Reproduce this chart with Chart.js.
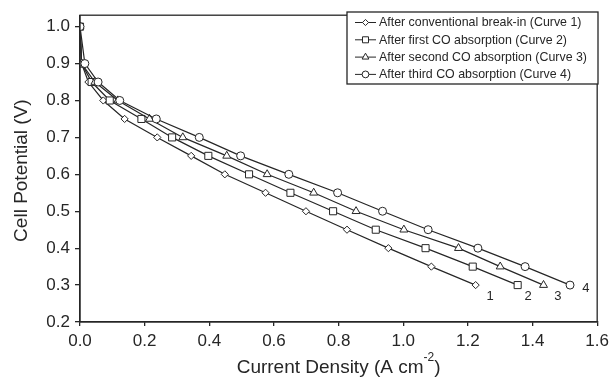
<!DOCTYPE html>
<html>
<head>
<meta charset="utf-8">
<script src="https://cdn.jsdelivr.net/npm/chart.js@4"></script>
<style>
  html, body { margin: 0; padding: 0; background: #fff; }
  #wrap { width: 614px; height: 382px; position: relative; }
</style>
</head>
<body>
<div id="wrap"><canvas id="polChart"></canvas></div>
<script>
// potentials (V) shared by all curves
const potentials = [1.0, 0.9, 0.85, 0.8, 0.75, 0.7, 0.65, 0.6, 0.55, 0.5, 0.45, 0.4, 0.35, 0.3];

// current density (A cm-2) per curve
const curve1 = [0, 0.005, 0.026, 0.072, 0.138, 0.239, 0.344, 0.448, 0.574, 0.699, 0.826, 0.954, 1.087, 1.224];
const curve2 = [0, 0.005, 0.036, 0.092, 0.190, 0.285, 0.397, 0.523, 0.651, 0.783, 0.915, 1.069, 1.215, 1.354];
const curve3 = [0, 0.005, 0.046, 0.117, 0.215, 0.318, 0.454, 0.579, 0.723, 0.854, 1.002, 1.171, 1.300, 1.434];
const curve4 = [0, 0.015, 0.056, 0.123, 0.236, 0.369, 0.497, 0.646, 0.797, 0.936, 1.077, 1.231, 1.377, 1.516];

const seriesNames = [
    'After conventional break-in (Curve 1)',
    'After first CO absorption (Curve 2)',
    'After second CO absorption (Curve 3)',
    'After third CO absorption (Curve 4)'
];
const seriesMarkers = ['rectRot', 'rect', 'triangle', 'circle'];

const xTicks = [0, 0.2, 0.4, 0.6, 0.8, 1.0, 1.2, 1.4, 1.6];
const yTicks = [0.2, 0.3, 0.4, 0.5, 0.6, 0.7, 0.8, 0.9, 1.0];

// curve numbers written next to the line ends
const tagText = ['1', '2', '3', '4'];
const tagX = [1.269, 1.386, 1.478, 1.565];
const tagY = [0.269, 0.269, 0.269, 0.292];

const ink = '#262626';
const fontFamily = "'Liberation Sans', Arial, sans-serif";
const markerRadius = [3.6, 5.0, 4.6, 4.0];

function toPoints(xs) {
    return xs.map((x, i) => ({ x: x, y: potentials[i] }));
}

// kotak plot, judul sumbu, nomor kurva dan legenda
const decorPlugin = {
    id: 'decor',
    afterDraw(chart) {
        const ctx = chart.ctx;
        const area = chart.chartArea;
        const xs = chart.scales.x;
        const ys = chart.scales.y;
        ctx.save();

        ctx.strokeStyle = ink;
        ctx.lineWidth = 1.3;
        ctx.strokeRect(area.left, area.top, area.right - area.left, area.bottom - area.top);

        ctx.fillStyle = ink;
        ctx.font = '13px ' + fontFamily;
        ctx.textAlign = 'center';
        ctx.textBaseline = 'middle';
        tagText.forEach((t, i) => {
            ctx.fillText(t, xs.getPixelForValue(tagX[i]), ys.getPixelForValue(tagY[i]));
        });

        // judul sumbu y
        ctx.save();
        ctx.translate(22, (area.top + area.bottom) / 2 + 2);
        ctx.rotate(-Math.PI / 2);
        ctx.font = '19px ' + fontFamily;
        ctx.fillText('Cell Potential (V)', 0, 0);
        ctx.restore();

        // judul sumbu x dengan pangkat
        const big = '19px ' + fontFamily;
        const small = '12px ' + fontFamily;
        const main = 'Current Density (A cm';
        const sup = '-2';
        const close = ')';
        ctx.font = big;
        const wMain = ctx.measureText(main).width;
        const wClose = ctx.measureText(close).width;
        ctx.font = small;
        const wSup = ctx.measureText(sup).width;
        const x0 = (area.left + area.right) / 2 - (wMain + wSup + wClose) / 2;
        const yBase = 373;
        ctx.textAlign = 'left';
        ctx.textBaseline = 'alphabetic';
        ctx.font = big;
        ctx.fillText(main, x0, yBase);
        ctx.fillText(close, x0 + wMain + wSup, yBase);
        ctx.font = small;
        ctx.fillText(sup, x0 + wMain, yBase - 12);

        // legenda
        const box = { left: 347, top: 12, width: 251, height: 72 };
        ctx.fillStyle = '#fff';
        ctx.fillRect(box.left, box.top, box.width, box.height);
        ctx.strokeStyle = ink;
        ctx.lineWidth = 1.3;
        ctx.strokeRect(box.left, box.top, box.width, box.height);
        ctx.font = '12.4px ' + fontFamily;
        ctx.textBaseline = 'middle';
        seriesNames.forEach((name, i) => {
            const y = 22.5 + i * 17.3;
            ctx.strokeStyle = ink;
            ctx.lineWidth = 1;
            ctx.beginPath();
            ctx.moveTo(355, y);
            ctx.lineTo(376, y);
            ctx.stroke();
            ctx.fillStyle = '#fff';
            Chart.helpers.drawPoint(ctx, {
                pointStyle: seriesMarkers[i],
                radius: markerRadius[i] * 0.85,
                rotation: 0,
                borderWidth: 1
            }, 365.5, y);
            ctx.fillStyle = ink;
            ctx.fillText(name, 379, y + 0.5);
        });

        ctx.restore();
    }
};

const datasets = [curve1, curve2, curve3, curve4].map((xs, i) => ({
    label: seriesNames[i],
    data: toPoints(xs),
    showLine: true,
    borderColor: ink,
    borderWidth: 1.2,
    pointStyle: seriesMarkers[i],
    pointRadius: markerRadius[i],
    pointBackgroundColor: '#fff',
    pointBorderColor: ink,
    pointBorderWidth: 1,
    tension: 0
}));

document.addEventListener('DOMContentLoaded', function() {
    new Chart(document.getElementById('polChart'), {
        type: 'scatter',
        data: { datasets: datasets.slice().reverse() },
        options: {
            responsive: true,
            maintainAspectRatio: false,
            animation: false,
            layout: { padding: { top: 12, right: 14, left: 0, bottom: 0 } },
            plugins: {
                legend: { display: false },
                tooltip: { enabled: false }
            },
            scales: {
                x: {
                    type: 'linear',
                    min: 0,
                    max: 1.6,
                    afterFit: scale => { scale.height = 60; },
                    afterBuildTicks: scale => { scale.ticks = xTicks.map(v => ({ value: v })); },
                    border: { color: ink, width: 1.3 },
                    grid: { drawOnChartArea: false, tickLength: 4, color: ink, lineWidth: 1.3 },
                    ticks: {
                        color: ink,
                        padding: 5,
                        maxRotation: 0,
                        font: { family: fontFamily, size: 17 },
                        callback: value => value.toFixed(1)
                    }
                },
                y: {
                    type: 'linear',
                    min: 0.2,
                    max: 1.031,
                    afterFit: scale => { scale.width = 80; },
                    afterBuildTicks: scale => { scale.ticks = yTicks.map(v => ({ value: v })); },
                    border: { color: ink, width: 1.3 },
                    grid: { drawOnChartArea: false, tickLength: 5, color: ink, lineWidth: 1.3 },
                    ticks: {
                        color: ink,
                        padding: 5,
                        font: { family: fontFamily, size: 17 },
                        callback: value => value.toFixed(1)
                    }
                }
            }
        },
        plugins: [decorPlugin]
    });
});
</script>
</body>
</html>
